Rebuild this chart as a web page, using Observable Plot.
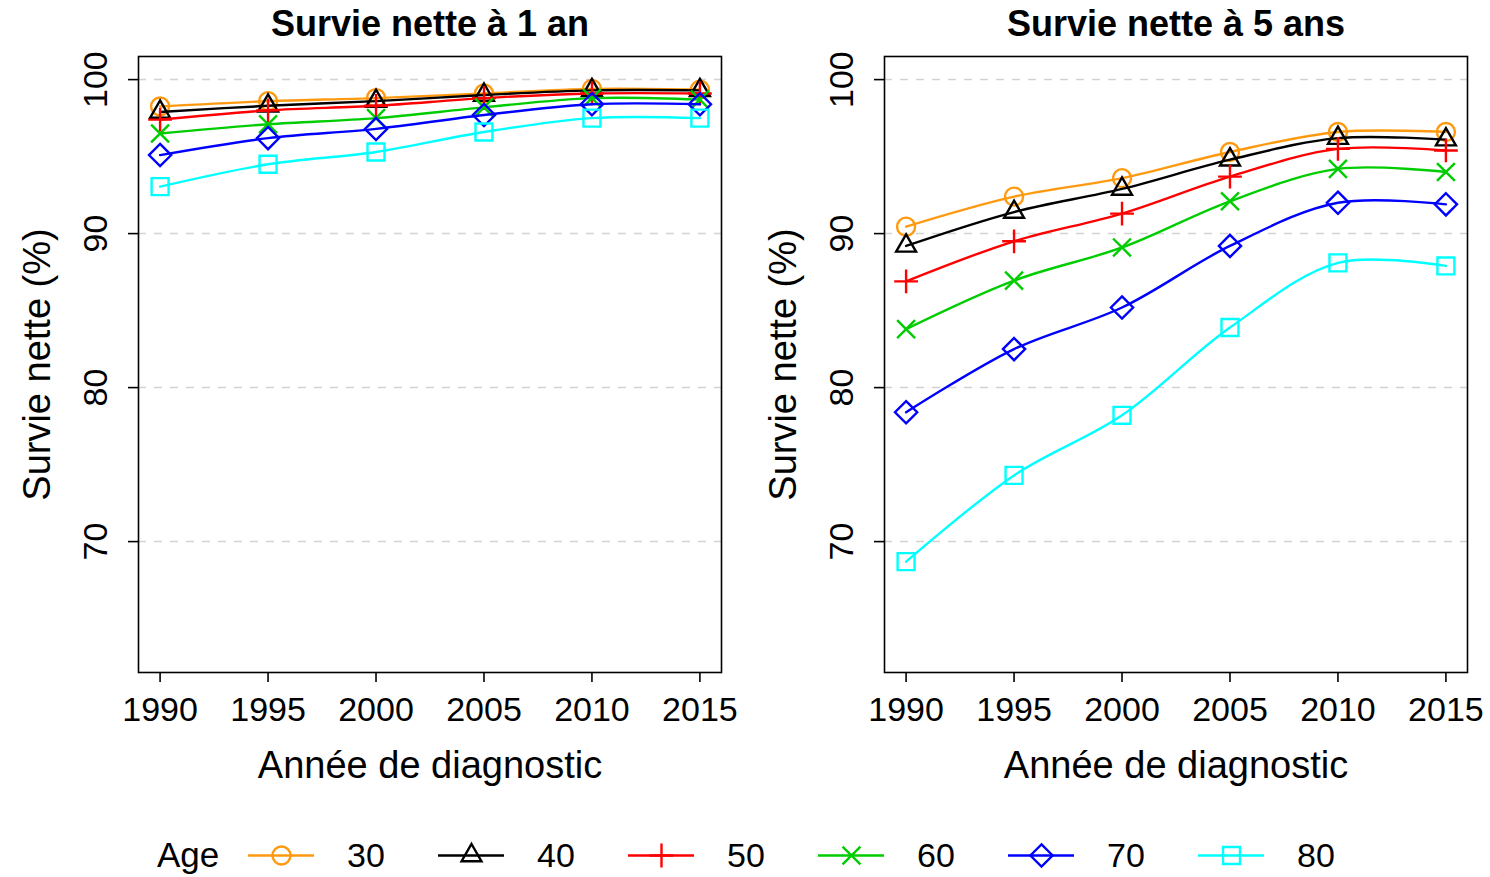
<!DOCTYPE html>
<html>
<head>
<meta charset="utf-8">
<script src="https://cdn.jsdelivr.net/npm/d3@7"></script>
<script src="https://cdn.jsdelivr.net/npm/@observablehq/plot@0.6"></script>
<style>
  body { margin: 0; background: white; font-family: "Liberation Sans", Arial, Helvetica, sans-serif; }
  #wrap { position: relative; width: 1490px; height: 877px; overflow: hidden; }
  #panels { position: absolute; left: 0; top: 0; display: flex; }
  #legend { position: absolute; left: 0; top: 830px; height: 50px; width: 1490px; }
  .lg-title { position: absolute; left: 157px; top: 0; line-height: 50px; font-size: 35px; color: black; }
  .lg-item { position: absolute; top: 0; height: 50px; display: flex; align-items: center; }
  .lg-item span { margin-left: 33px; font-size: 34px; color: black; line-height: 50px; }
</style>
</head>
<body>
<div id="wrap">
  <div id="panels"></div>
  <div id="legend"><div class="lg-title">Age</div></div>
</div>
<script>
// ---- data ----
const years = [1990, 1995, 2000, 2005, 2010, 2015];
const ages = ["30", "40", "50", "60", "70", "80"];
const yTicks = [70, 80, 90, 100];
const xTicks = [1990, 1995, 2000, 2005, 2010, 2015];
const panelTitles = ["Survie nette à 1 an", "Survie nette à 5 ans"];
const xLabel = "Année de diagnostic";
const yLabel = "Survie nette (%)";
const legendTitle = "Age";

// 1-year net survival by age
const surv1_30 = [98.25, 98.6, 98.8, 99.1, 99.4, 99.35];
const surv1_40 = [97.9, 98.3, 98.6, 99.0, 99.3, 99.3];
const surv1_50 = [97.4, 98.0, 98.3, 98.8, 99.1, 99.1];
const surv1_60 = [96.5, 97.1, 97.5, 98.2, 98.8, 98.7];
const surv1_70 = [95.1, 96.2, 96.8, 97.7, 98.4, 98.4];
const surv1_80 = [93.05, 94.5, 95.3, 96.6, 97.5, 97.5];

// 5-year net survival by age
const surv5_30 = [90.45, 92.4, 93.6, 95.3, 96.6, 96.6];
const surv5_40 = [89.2, 91.4, 92.9, 94.8, 96.2, 96.1];
const surv5_50 = [86.9, 89.5, 91.3, 93.7, 95.5, 95.4];
const surv5_60 = [83.8, 86.95, 89.1, 92.1, 94.2, 94.0];
const surv5_70 = [78.4, 82.5, 85.2, 89.2, 92.0, 91.9];
const surv5_80 = [68.7, 74.3, 78.2, 83.9, 88.1, 87.9];

// ---- styles ----
const colors = ["#FF9A10", "#000000", "#FF0000", "#00CD00", "#0000FF", "#00FFFF"];
const symbols = ["circle", "triangle2", "plus", "times", "diamond2", "square2"];
const symbolR = [9, 9.5, 7.7, 8.2, 10, 10.8];
const FONT = "'Liberation Sans', Arial, Helvetica, sans-serif";
const LW = 2.4;

const panelsData = [
  [surv1_30, surv1_40, surv1_50, surv1_60, surv1_70, surv1_80],
  [surv5_30, surv5_40, surv5_50, surv5_60, surv5_70, surv5_80]
];

function rows(values, age) {
  return years.map((yr, i) => ({year: yr, value: values[i], age}));
}

function panel(idx, marginLeft, marginRight) {
  const series = panelsData[idx];
  const seriesMarks = [];
  series.forEach((vals, k) => {
    const data = rows(vals, ages[k]);
    seriesMarks.push(Plot.line(data, {x: "year", y: "value", stroke: colors[k], strokeWidth: LW, curve: "catmull-rom"}));
    seriesMarks.push(Plot.dot(data, {x: "year", y: "value", stroke: colors[k], strokeWidth: LW, fill: "none", symbol: symbols[k], r: symbolR[k]}));
  });
  return Plot.plot({
    width: 745,
    height: 800,
    marginTop: 56,
    marginBottom: 128,
    marginLeft,
    marginRight,
    style: {fontFamily: FONT, background: "white", color: "black"},
    x: {domain: [1989, 2016]},
    y: {domain: [61.5, 101.5]},
    marks: [
      Plot.gridY(yTicks, {stroke: "#d2d2d2", strokeOpacity: 1, strokeWidth: 1.5, strokeDasharray: "8,8"}),
      ...seriesMarks,
      Plot.frame({stroke: "black", strokeWidth: 1.6}),
      Plot.axisX(xTicks, {tickSize: 10, tickPadding: 14, fontSize: 34, strokeWidth: 1.6, tickFormat: d => String(d), label: null}),
      Plot.axisY(yTicks, {tickSize: 10, strokeWidth: 1.6, tickFormat: () => "", label: null}),
      Plot.text(yTicks, {y: d => d, text: d => String(d), frameAnchor: "left", dx: -42, rotate: -90, fontSize: 34, textAnchor: "middle", lineAnchor: "middle", fill: "black"}),
      Plot.text([yLabel], {frameAnchor: "left", dx: -101, rotate: -90, fontSize: 38, textAnchor: "middle", lineAnchor: "middle", fill: "black"}),
      Plot.text([xLabel], {frameAnchor: "bottom", dy: 93, fontSize: 38, textAnchor: "middle", lineAnchor: "middle", fill: "black"}),
      Plot.text([panelTitles[idx]], {frameAnchor: "top", dy: -32, fontSize: 36, fontWeight: "bold", textAnchor: "middle", lineAnchor: "middle", fill: "black"})
    ]
  });
}

const panelsDiv = document.getElementById("panels");
panelsDiv.appendChild(panel(0, 138, 24));
panelsDiv.appendChild(panel(1, 139, 23));

// ---- legend ----
const legendDiv = document.getElementById("legend");
ages.forEach((age, k) => {
  const item = document.createElement("div");
  item.className = "lg-item";
  item.style.left = (248 + 190 * k) + "px";
  const sw = Plot.plot({
    width: 66, height: 50, margin: 0, axis: null,
    style: {background: "transparent"},
    x: {domain: [0, 1]}, y: {domain: [-1, 1]},
    marks: [
      Plot.ruleY([0], {stroke: colors[k], strokeWidth: LW}),
      Plot.dot([0.5], {x: d => d, y: () => 0, stroke: colors[k], strokeWidth: LW, fill: "none", symbol: symbols[k], r: symbolR[k]})
    ]
  });
  item.appendChild(sw);
  const lab = document.createElement("span");
  lab.textContent = age;
  item.appendChild(lab);
  legendDiv.appendChild(item);
});
</script>
</body>
</html>
